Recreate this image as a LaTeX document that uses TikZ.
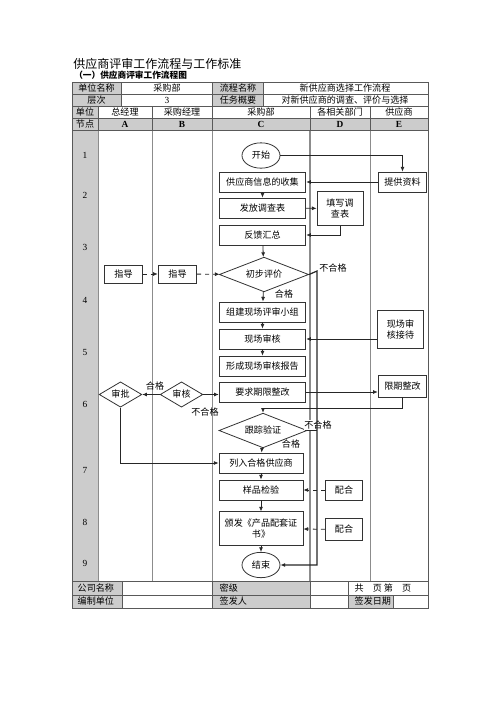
\documentclass[tikz,border=0pt]{standalone}
\usepackage{fontspec}
\setmainfont{Liberation Serif}
\newfontfamily\cjk{Noto Sans CJK SC}
\usetikzlibrary{shapes.geometric,arrows.meta}
\definecolor{cellgray}{gray}{0.8}
\definecolor{rulegray}{gray}{0.55}

\begin{document}
\begin{tikzpicture}[x=0.75pt,y=-0.75pt,>={Latex[length=3.5pt,width=3pt]},
		font=\cjk\fontsize{6.8}{8}\selectfont]
		\tikzstyle{stepbox}=[draw=black!80,fill=white,line width=0.6pt,minimum width=65pt,minimum height=15pt,inner sep=1pt,align=center]
		\tikzstyle{smallbox}=[stepbox,minimum width=28pt]
		\tikzstyle{choice}=[draw=black!80,fill=white,line width=0.6pt,shape=diamond,aspect=2.5,inner sep=0pt,minimum width=67pt,minimum height=26pt]
		\tikzstyle{term}=[draw=black!80,fill=white,line width=0.6pt,shape=ellipse,inner sep=0pt,minimum width=28.5pt,minimum height=19pt]
		\tikzstyle{flow}=[->,line width=0.6pt,black!85]
		\tikzstyle{helper}=[->,dashed,line width=0.6pt,black!85]
		\tikzstyle{numfont}=[font=\rmfamily\fontsize{7}{8}\selectfont]

		\useasboundingbox (0,0) rectangle (500,707);

		% titles
		\node[anchor=west,inner sep=0pt,font=\cjk\fontsize{9}{10}\selectfont] (title) at (73,64) {供应商评审工作流程与工作标准};
		\node[anchor=west,inner sep=0pt,font=\cjk\bfseries\fontsize{6.5}{8}\selectfont] (subtitle) at (74,75) {（一）供应商评审工作流程图};

		% gray cells
		\fill[cellgray] (72,82) rectangle (121,106);
		\fill[cellgray] (212.5,82) rectangle (263,106);
		\fill[cellgray] (72,106) rectangle (98,118);
		\fill[cellgray] (72,118) rectangle (428,130);
		\fill[cellgray] (72,130) rectangle (98,581);
		\fill[cellgray] (72,581) rectangle (122,608);
		\fill[cellgray] (212.5,581) rectangle (310,608);
		\fill[cellgray] (348,595) rectangle (393,608);

		% table rules
		\draw[rulegray,line width=0.6pt] (98,130) -- (98,581);
		\draw[rulegray,line width=0.6pt] (152,130) -- (152,581);
		\draw[rulegray,line width=1pt] (212.5,130) -- (212.5,581);
		\draw[rulegray,line width=1pt] (310,130) -- (310,581);
		\draw[rulegray,line width=0.6pt] (370,130) -- (370,581);
		\draw[black!65,line width=0.5pt] (72,94) -- (428,94) (72,106) -- (428,106) (72,118) -- (428,118) (72,130) -- (428,130);
		\draw[black!65,line width=0.5pt] (72,581) -- (428,581) (72,595) -- (428,595);
		\draw[black!65,line width=0.5pt] (121,82) -- (121,106) (212.5,82) -- (212.5,106) (263,82) -- (263,106);
		\draw[black!65,line width=0.5pt] (98,106) -- (98,130) (152,106) -- (152,130) (212.5,106) -- (212.5,130) (310,106) -- (310,130) (370,106) -- (370,130);
		\draw[black!65,line width=0.5pt] (122,581) -- (122,608) (212.5,581) -- (212.5,608) (310,581) -- (310,608) (348,581) -- (348,608) (393,595) -- (393,608);
		\draw[black!65,line width=0.7pt] (72,82) rectangle (428,608);

		% header texts
		\node (unitname) at (96.5,88) {单位名称};
		\node (dept) at (167,88) {采购部};
		\node (flowname) at (238,88) {流程名称};
		\node (flowtitle) at (345,88) {新供应商选择工作流程};
		\node (level) at (96.5,100) {层次};
		\node[numfont] (levelno) at (167,100) {3};
		\node (task) at (238,100) {任务概要};
		\node (tasktext) at (345,100) {对新供应商的调查、评价与选择};
		\node (unit) at (85,112) {单位};
		\node (nodehead) at (85,124) {节点};
		\foreach \x/\t/\l in {125/总经理/A,182/采购经理/B,261/采购部/C,340/各相关部门/D,399/供应商/E}{
			\node (head\l) at (\x,112) {\t};
			\node[font=\rmfamily\bfseries\fontsize{7}{8}\selectfont] (col\l) at (\x,124) {\l};
		}
		\foreach \n/\y in {1/155,2/195,3/247,4/300,5/352,6/404,7/470,8/522,9/563}
			\node[numfont] (row\n) at (85,\y) {\n};

		% footer texts
		\node[anchor=west] (company) at (73,588) {公司名称};
		\node[anchor=west] (secret) at (215,588) {密级};
		\node[anchor=west] (pages) at (350,588) {共\quad 页\ 第\quad 页};
		\node[anchor=west] (maker) at (73,601.5) {编制单位};
		\node[anchor=west] (signer) at (215,601.5) {签发人};
		\node[anchor=west] (signdate) at (350,601.5) {签发日期};

		% flow nodes
		\node[term] (start) at (261,155.5) {开始};
		\node[stepbox] (collect) at (262.5,182) {供应商信息的收集};
		\node[stepbox,minimum width=36.5pt] (supply) at (402.5,182) {提供资料};
		\node[stepbox] (survey) at (262.5,208) {发放调查表};
		\node[stepbox,minimum width=34.5pt,minimum height=25pt] (fillin) at (340,208.5) {填写调\\查表};
		\node[stepbox] (feedback) at (262.5,235) {反馈汇总};
		\node[smallbox,minimum height=13.5pt] (guideA) at (123.5,274) {指导};
		\node[smallbox,minimum width=29pt,minimum height=13.5pt] (guideB) at (177.5,274) {指导};
		\node[choice] (prelim) at (264,274.5) {初步评价};
		\node[stepbox] (team) at (262.5,312) {组建现场评审小组};
		\node[stepbox] (audit) at (262.5,339) {现场审核};
		\node[stepbox] (report) at (262.5,366) {形成现场审核报告};
		\node[stepbox,minimum width=34pt,minimum height=29pt] (host) at (400.5,329.5) {现场审\\核接待};
		\node[stepbox] (rectify) at (262.5,392) {要求期限整改};
		\node[stepbox,minimum width=36.5pt,minimum height=16.5pt] (deadline) at (402.5,386) {限期整改};
		\node[choice,aspect=1.7,minimum width=32pt,minimum height=19pt] (review) at (181.5,394.5) {审核};
		\node[choice,aspect=1.7,minimum width=32pt,minimum height=19pt] (approve) at (120.5,394.5) {审批};
		\node[choice,minimum width=66pt] (track) at (263,430.5) {跟踪验证};
		\node[stepbox,minimum width=63pt] (qualify) at (261,463) {列入合格供应商};
		\node[stepbox,minimum width=63pt] (sample) at (261,490) {样品检验};
		\node[stepbox,minimum width=63pt,minimum height=25pt] (cert) at (261,528.5) {颁发《产品配套证\\书》};
		\node[smallbox] (assistA) at (344,490) {配合};
		\node[smallbox,minimum height=16pt] (assistB) at (344,529.5) {配合};
		\node[term] (stop) at (261,565) {结束};

		% labels
		\node (failA) at (333,268) {不合格};
		\node (passA) at (284,294) {合格};
		\node (passB) at (155,386) {合格};
		\node (failB) at (205,412) {不合格};
		\node[fill=white,inner sep=0.5pt] (failC) at (318,425) {不合格};
		\node (passC) at (291,444) {合格};
		\coordinate (failturn) at (317,271);
		\coordinate (rectturn) at (263,408);

		% connectors
		\draw[flow] (start) -| (supply);
		\draw[flow] (supply) -- (collect);
		\draw[flow] (collect) -- (survey);
		\draw[flow] (survey) -- (fillin);
		\draw[flow] (fillin) |- (feedback);
		\draw[flow] (feedback) -- (prelim);
		\draw[helper] (guideA) -- (guideB);
		\draw[helper] (guideB) -- (prelim);
		\draw[flow] (prelim) -- (team);
		\draw[flow,line width=0.9pt] (prelim.east) -- (failturn) |- (stop.east);
		\draw[flow] (team) -- (audit);
		\draw[flow] (audit) -- (report);
		\draw[flow] (host.west |- audit.east) -- (audit.east);
		\draw[flow] (rectify.east) -- (deadline.west |- rectify.east);
		\draw[flow] (deadline) |- (rectturn) -- (track);
		\draw[flow] (review.east) -- (rectify.west |- review.east);
		\draw[flow] (review) -- (approve);
		\draw[flow] (approve) |- (qualify);
		\draw[line width=0.6pt,black!85] (track.east) -- (track.east -| failturn);
		\draw[flow] (track) -- (qualify);
		\draw[flow] (qualify) -- (sample);
		\draw[flow] (sample) -- (cert);
		\draw[flow] (cert) -- (stop);
		\draw[helper] (assistA) -- (sample);
		\draw[helper] (assistB) -- (cert);
\end{tikzpicture}
\end{document}
